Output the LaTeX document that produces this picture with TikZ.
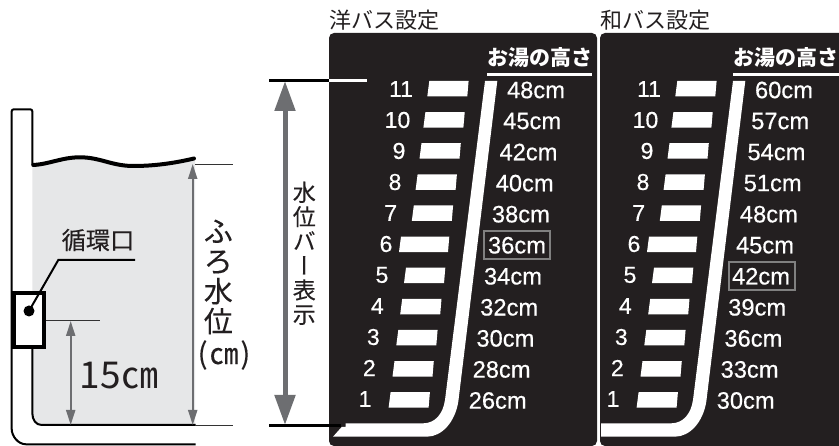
\documentclass[tikz,border=0pt]{standalone}
\usepackage{fontspec}
\setmainfont{Liberation Sans}
\newfontfamily\labfont[FakeBold=0.5]{Liberation Sans}
\newfontfamily\cjk{Noto Sans CJK JP}
\newfontfamily\cjkm[FakeBold=0.25]{Noto Sans CJK JP}
\newfontfamily\cjkv[RawFeature={+vert},FakeBold=0.25]{Noto Sans CJK JP}
\usetikzlibrary{arrows.meta}
\definecolor{panelblack}{HTML}{231F20}
\definecolor{watergray}{HTML}{E6E7E8}
\definecolor{arrowgray}{HTML}{6D6E71}
\tikzset{
  numlab/.style={font=\labfont\fontsize{23}{24}\selectfont,text=white,inner sep=0pt},
  cmlab/.style={font=\labfont\fontsize{23.7}{24}\selectfont,text=white,inner sep=0pt},
  headlab/.style={font=\cjk\bfseries\fontsize{21}{24}\selectfont,text=white,inner sep=0pt},
  titlelab/.style={font=\cjk\fontsize{22}{24}\selectfont,text=panelblack,inner sep=0pt},
  hibox/.style={draw=gray,line width=2pt,minimum width=66pt,minimum height=28pt,inner sep=0pt},
  tubline/.style={draw=black,line width=2pt},
  thinline/.style={draw=black!80,line width=0.7pt},
  gaugearrow/.style={draw=arrowgray,line width=2pt,{Triangle[length=15pt,width=9pt]}-{Triangle[length=15pt,width=9pt]}},
  bigarrow/.style={draw=arrowgray,line width=5pt,{Triangle[length=30pt,width=20pt]}-{Triangle[length=30pt,width=20pt]}}
}
\begin{document}
\begin{tikzpicture}[x=1pt,y=-1pt]
    \useasboundingbox (0,0) rectangle (839,446);

    % Bath cross-section
    \fill[watergray] (32.3,165) .. controls (50,164) and (62,157.3) .. (80,157.3)
      .. controls (100,157.3) and (112,166) .. (133.3,166)
      .. controls (155,166) and (175,163) .. (195,158.5) -- (195,425) -- (41.7,425)
      .. controls (36,425) and (32.3,420) .. (32.3,413) -- cycle;
    \draw[tubline,rounded corners=2pt] (195.7,444.3) -- (28,444.3)
      .. controls (18,444.3) and (11.7,436) .. (11.7,427) -- (11.7,109.3) -- (32.3,109.3) -- (32.3,165);
    \draw[tubline] (195.7,425) -- (41.7,425) .. controls (36,425) and (32.3,420) .. (32.3,413) -- (32.3,340);
    \draw[line width=4pt,line cap=round] (33.3,165) .. controls (50,164) and (62,157.3) .. (80,157.3)
      .. controls (100,157.3) and (112,166) .. (133.3,166)
      .. controls (155,166) and (175,163) .. (194,158.5);

    % Inlet box and its label
    \draw[line width=4.4pt,fill=white] (13.5,293.3) rectangle (43.7,347.3);
    \node[circle,fill=black,minimum size=11pt,inner sep=0pt] (inletdot) at (29,311) {};
    \coordinate (inletknee) at (58.3,260);
    \coordinate (inletend) at (135,260);
    \draw[line width=2pt] (inletdot.center) -- (inletknee) -- (inletend);
    \node[font=\cjkm\fontsize{24.2}{26}\selectfont,text=panelblack,inner sep=0pt] (inletlab) at (98,240) {循環口};

    % Levels and dimension arrows
    \coordinate (surfa) at (195,164);
    \coordinate (surfb) at (232.7,164);
    \coordinate (floora) at (195,425);
    \coordinate (floorb) at (232.7,425);
    \coordinate (inleta) at (45.7,320);
    \coordinate (inletb) at (100,320);
    \draw[thinline] (surfa) -- (surfb);
    \draw[thinline] (floora) -- (floorb);
    \draw[thinline] (inleta) -- (inletb);
    \coordinate (lvltop) at (192.7,164);
    \coordinate (lvlbot) at (192.7,425);
    \coordinate (inlettop) at (70.7,321);
    \coordinate (inletbot) at (70.7,425);
    \draw[gaugearrow] (lvltop) -- (lvlbot);
    \draw[gaugearrow] (inlettop) -- (inletbot);
    \node[font=\cjk\fontsize{37}{38}\selectfont,text=panelblack,inner sep=0pt] (heightlab) at (119,376) {15㎝};
    \node[font=\cjkm\fontsize{29}{30}\selectfont,text=panelblack,align=center,inner sep=0pt] (levellab) at (218.3,277) {ふ\\ろ\\水\\位};
    \node[font=\cjkm\fontsize{29}{30}\selectfont,text=panelblack,inner sep=0pt] (unitlab) at (224,355) {(\kern2pt㎝\kern2pt)};

    % Panels
    \fill[panelblack,rounded corners=5pt] (329,33) rectangle (597,446);
    \fill[panelblack,rounded corners=5pt] (600,33) rectangle (845,446);
    \node[titlelab] (titley) at (384.7,20) {洋バス設定};
    \node[titlelab] (titlew) at (655.3,20) {和バス設定};

    % Bar display span
    \coordinate (spantopa) at (269.3,80.7);
    \coordinate (spantopb) at (329,80.7);
    \coordinate (spantopc) at (366.7,80.7);
    \coordinate (spanbota) at (269.3,425.5);
    \coordinate (spanbotb) at (341,425.5);
    \coordinate (spanup) at (285,81);
    \coordinate (spandown) at (285,425);
    \draw[bigarrow] (spanup) -- (spandown);
    \node[font=\cjkv\fontsize{23}{24.4}\selectfont,text=panelblack,align=center,inner sep=0pt] (spanlab) at (304.3,253.3) {水\\位\\バ\\ー\\表\\示};

    % White gauge bands
    \fill[white] (485,81) -- (497.3,81) -- (458.3,401.7) .. controls (455,422) and (442,436.7) .. (426.7,436.7)
      -- (333,436.7) -- (341.7,427) -- (345.7,427) -- (345.7,423.3) -- (423.3,423.3)
      .. controls (435,423.3) and (443,414) .. (445,400) -- cycle;
    \fill[white] (733,81) -- (745.3,81) -- (706.3,401.7) .. controls (703,422) and (690,436.7) .. (674.7,436.7)
      -- (601,436.7) -- (601,423.3) -- (671.3,423.3)
      .. controls (683,423.3) and (691,414) .. (693,400) -- cycle;
    \draw[line width=3pt] (spantopa) -- (spantopb);
    \draw[line width=3pt,white] (spantopb) -- (spantopc);
    \draw[line width=3pt] (spanbota) -- (spanbotb);

    % Headings
    \node[headlab] (heady) at (539.7,58) {お湯の高さ};
    \node[headlab] (headw) at (786,58) {お湯の高さ};
    \draw[white,line width=3pt] (heady.west |- 0,75) -- (heady.east |- 0,75);
    \draw[white,line width=3pt] (headw.west |- 0,75) -- (839,75);

    % Rows: bar left edge, bar width, number x, label x, both label values
    \foreach \r/\xl/\xw/\xn/\xc/\ta/\tb in {11/427.3/40/401/536/48/60,10/423.4/40/397.5/532.2/45/57,9/419.5/40/399/528.5/42/54,8/415.6/40/395/524.7/40/51,7/411.8/40/390.7/520.9/38/48,6/399/49/386/517/36/45,5/404/40/382/513/34/42,4/400.2/40/377.3/509.2/32/39,3/396.3/40/373.3/505.4/30/36,2/392.5/40/369.3/501.6/28/33,1/388.6/40/365/497.7/26/30} {%
      \pgfmathsetmacro{\yb}{81+(11-\r)*31.12}
      \pgfmathsetmacro{\yn}{89+(11-\r)*31}
      \pgfmathsetmacro{\yc}{90+(11-\r)*31.05}
      \foreach \sx/\pn in {0/y,248/w} {%
        \fill[white,xshift=\sx] (\xl+2,\yb) -- (\xl+\xw+1.3,\yb) -- (\xl+\xw,\yb+15.5) -- (\xl,\yb+15.5) -- cycle;
        \node[numlab,xshift=\sx] (num\pn\r) at (\xn,\yn) {\r};
      }
      \node[cmlab] (cmy\r) at (\xc,\yc) {\ta cm};
      \node[cmlab,xshift=248] (cmw\r) at (\xc,\yc) {\tb cm};
    }

    % Current settings
    \node[hibox] (hiy) at (517.2,244.7) {};
    \node[hibox] (hiw) at (762,276) {};

\end{tikzpicture}
\end{document}
